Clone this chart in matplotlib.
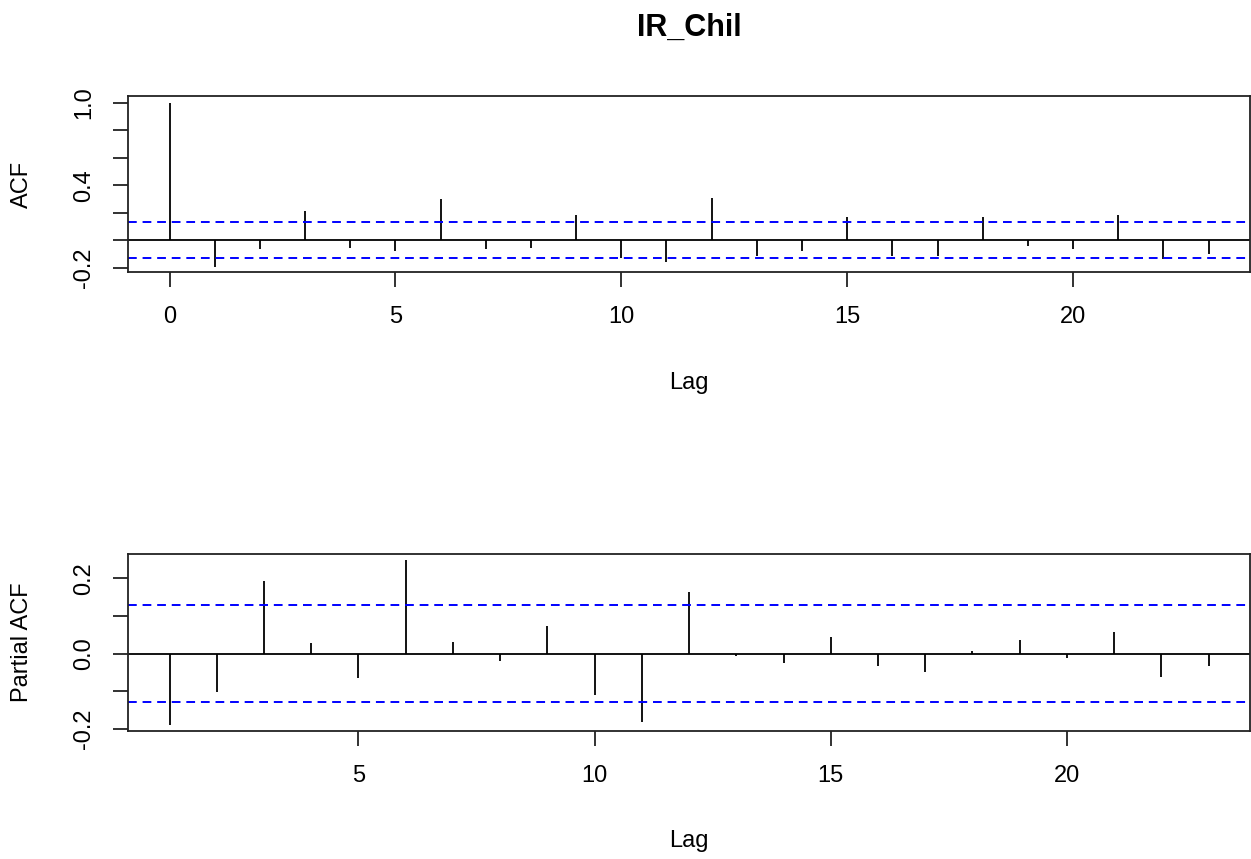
import matplotlib.pyplot as plt
import numpy as np

plt.rcParams['font.family'] = ['Liberation Sans', 'DejaVu Sans']

# ACF values, lags 0..23
acf_lags = np.arange(0, 24)
acf_vals = [1.0, -0.195, -0.064, 0.214, -0.055, -0.076, 0.297, -0.064,
            -0.055, 0.181, -0.130, -0.162, 0.309, -0.113, -0.076, 0.168,
            -0.113, -0.113, 0.168, -0.042, -0.067, 0.181, -0.135, -0.104]

# PACF values, lags 1..23
pacf_lags = np.arange(1, 24)
pacf_vals = [-0.190, -0.101, 0.193, 0.027, -0.066, 0.249, 0.032, -0.020,
             0.074, -0.109, -0.182, 0.163, -0.007, -0.024, 0.044, -0.033,
             -0.050, 0.006, 0.036, -0.012, 0.057, -0.062, -0.033]

conf = 0.130

fig = plt.figure(figsize=(12.51, 8.59), dpi=100)
ax1 = fig.add_axes([0.1023, 0.6834, 0.897, 0.2049])
ax2 = fig.add_axes([0.1023, 0.1494, 0.897, 0.2053])

fs = 17


def style(ax, ylab, lag_y):
    for s in ax.spines.values():
        s.set_linewidth(1.3)
        s.set_color('#222222')
    ax.tick_params(direction='out', length=10.5, width=1.3, labelsize=fs,
                   color='#222222')
    ax.tick_params(axis='x', pad=14)
    ax.tick_params(axis='y', pad=13)
    ax.set_xlabel('Lag', fontsize=fs, va='center')
    ax.xaxis.set_label_coords(0.5, lag_y)
    ax.set_ylabel(ylab, fontsize=fs, va='center')
    ax.yaxis.set_label_coords(-0.0945, 0.5)


# top: ACF
ax1.vlines(acf_lags, 0, acf_vals, color='black', lw=1.3)
ax1.axhline(0, color='black', lw=1.3)
ax1.axhline(conf, color='blue', lw=1.4, ls=(0, (4.5, 3)))
ax1.axhline(-conf, color='blue', lw=1.4, ls=(0, (4.5, 3)))
ax1.set_xlim(-0.92, 23.92)
ax1.set_ylim(-0.2315, 1.051)
ax1.set_xticks([0, 5, 10, 15, 20])
ax1.set_yticks([-0.2, 0.0, 0.2, 0.4, 0.6, 0.8, 1.0])
ax1.set_yticklabels(['-0.2', '', '', '0.4', '', '', '1.0'], rotation=90, va='center')
style(ax1, 'ACF', -0.63)

# bottom: PACF
ax2.vlines(pacf_lags, 0, pacf_vals, color='black', lw=1.3)
ax2.axhline(0, color='black', lw=1.3)
ax2.axhline(conf, color='blue', lw=1.4, ls=(0, (4.5, 3)))
ax2.axhline(-conf, color='blue', lw=1.4, ls=(0, (4.5, 3)))
ax2.set_xlim(0.12, 23.88)
ax2.set_ylim(-0.205, 0.264)
ax2.set_xticks([5, 10, 15, 20])
ax2.set_yticks([-0.2, -0.1, 0.0, 0.1, 0.2])
ax2.set_yticklabels(['-0.2', '', '0.0', '', '0.2'], rotation=90, va='center')
style(ax2, 'Partial ACF', -0.625)

fig.text(0.5508, 1 - 28 / 859, 'IR_Chil', fontsize=22, fontweight='bold',
         ha='center', va='center')

fig.savefig('out.png', dpi=100)
